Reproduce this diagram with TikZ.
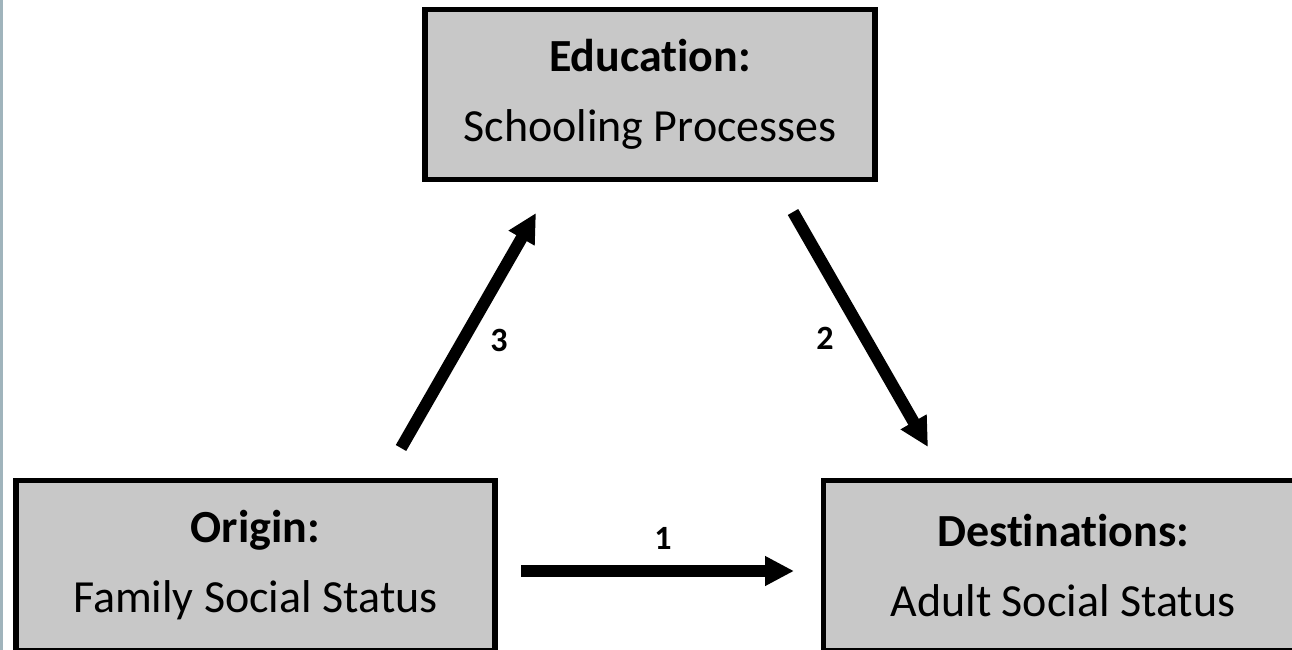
\documentclass[tikz,border=0pt]{standalone}
\usepackage{fontspec}
\setmainfont{Carlito}[Ligatures=NoCommon]
\usetikzlibrary{arrows.meta}
\definecolor{boxgrey}{RGB}{200,200,200}
\definecolor{edgeblue}{RGB}{160,180,188}
\tikzset{my box/.style={draw, line width=5.5pt, fill=boxgrey, inner sep=0pt, align=center, font=\fontsize{46}{70}\selectfont},
my arrow/.style={line width=12pt, -{Triangle[length=29pt,width=28pt]}},
my label/.style={font=\fontsize{34}{34}\selectfont\bfseries},}

\begin{document}
\begin{tikzpicture}[x=1pt,y=-1pt]
\useasboundingbox (0,0) rectangle (1292,650);
\clip (0,0) rectangle (1292,650);
\fill [edgeblue] (0,0) rectangle (3,650);
\node [my box,minimum width=450pt,minimum height=170pt] (edu) at (650.0, 94.5) {\textbf{Education:}\\Schooling Processes};
\node [my box,minimum width=479pt,minimum height=170pt] (origin) at (255.5,565.5) {\textbf{Origin:}\\Family Social Status};
\node [my box,minimum width=479pt,minimum height=170pt] (dest) at (1063.0,565.5) {\textbf{Destinations:}\\Adult Social Status};
\coordinate (a1s) at (521,571); \coordinate (a1e) at (794,571);
\coordinate (a3s) at (401,448); \coordinate (a3e) at (536,213);
\coordinate (a2s) at (793,212); \coordinate (a2e) at (928,447);
\draw [my arrow] (a1s) -- (a1e);
\draw [my arrow] (a3s) -- (a3e);
\draw [my arrow] (a2s) -- (a2e);
\node [my label] (l1) at (663,538) {1};
\node [my label] (l3) at (499,340) {3};
\node [my label] (l2) at (825,338) {2};
\end{tikzpicture}
\end{document}
